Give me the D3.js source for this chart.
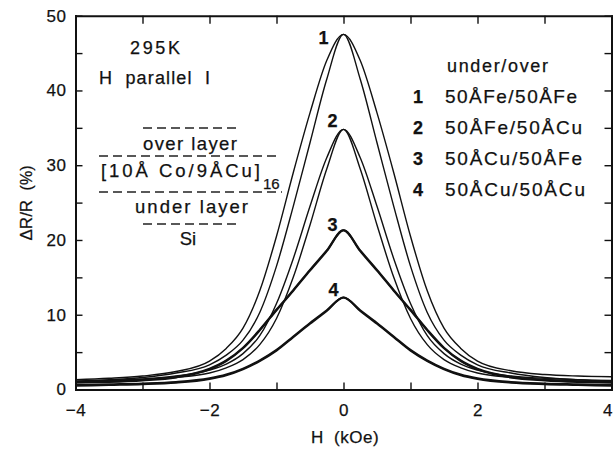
<!DOCTYPE html>
<html>
<head>
<meta charset="utf-8">
<script src="https://cdn.jsdelivr.net/npm/d3@7"></script>
<style>
  body { margin: 0; background: #fff; }
  svg { font-family: "Liberation Sans", Arial, Helvetica, sans-serif; }
  svg text { fill: #111; stroke: #111; stroke-width: 0.25px; }
  .axis .domain { stroke: #111; stroke-width: 2; }
  .axis line { stroke: #111; stroke-width: 1.4; }
  .axis text { font-size: 17px; letter-spacing: 0.5px; }
</style>
</head>
<body>
<div id="chart"></div>
<script>
// field sweep, kOe
const fieldKOe = [-4, -3.5, -3, -2.5, -2, -1.75, -1.5, -1.25, -1, -0.75, -0.5, -0.25, 0,
  0.25, 0.5, 0.75, 1, 1.25, 1.5, 1.75, 2, 2.5, 3, 3.5, 4];

// dR/R (%) for each sample, two sweep branches each
const curve1Down = [1.3, 1.5, 1.8, 2.4, 3.8, 5.5, 8.2, 13.2, 20.5, 29, 37, 44, 47.5,
  41.5, 33, 24.5, 16.5, 10.3, 6.6, 4.6, 3.3, 2.2, 1.6, 1.3, 1.1];
const curve1Up = [1.1, 1.3, 1.6, 2.2, 3.3, 4.6, 6.6, 10.3, 16.5, 24.5, 33, 41.5, 47.5,
  44, 37, 29, 20.5, 13.2, 8.2, 5.5, 3.8, 2.5, 2.0, 1.8, 1.7];
const curve2Down = [1.1, 1.2, 1.4, 1.8, 2.6, 3.4, 4.8, 7.2, 11.5, 17.5, 24.5, 31, 34.8,
  29.5, 22, 15, 9.5, 6.0, 4.0, 2.9, 2.2, 1.6, 1.3, 1.1, 1.0];
const curve2Up = [1.0, 1.1, 1.3, 1.6, 2.2, 2.9, 4.0, 6.0, 9.5, 15, 22, 29.5, 34.8,
  31, 24.5, 17.5, 11.5, 7.2, 4.8, 3.4, 2.6, 1.8, 1.5, 1.3, 1.2];
const curve3Down = [1.0, 1.1, 1.3, 1.7, 2.8, 3.9, 5.6, 8.0, 10.7, 13.3, 16.0, 18.6, 21.3,
  18.5, 15.9, 13.2, 10.6, 7.9, 5.5, 3.8, 2.7, 1.6, 1.2, 1.0, 0.9];
const curve3Up = [0.9, 1.0, 1.2, 1.6, 2.7, 3.8, 5.5, 7.9, 10.6, 13.2, 15.9, 18.5, 21.3,
  18.6, 16.0, 13.3, 10.7, 8.0, 5.6, 3.9, 2.8, 1.7, 1.3, 1.1, 1.0];
const curve4Down = [0.6, 0.7, 0.8, 1.0, 1.5, 2.0, 2.8, 3.9, 5.3, 7.1, 8.9, 10.6, 12.3,
  10.5, 8.8, 7.0, 5.2, 3.8, 2.7, 1.9, 1.4, 0.9, 0.7, 0.6, 0.5];
const curve4Up = [0.5, 0.6, 0.7, 0.9, 1.4, 1.9, 2.7, 3.8, 5.2, 7.0, 8.8, 10.5, 12.3,
  10.6, 8.9, 7.1, 5.3, 3.9, 2.8, 2.0, 1.5, 1.0, 0.8, 0.7, 0.6];

const sampleIds = ['1', '2', '3', '4'];
const sampleNames = ['50ÅFe/50ÅFe', '50ÅFe/50ÅCu', '50ÅCu/50ÅFe', '50ÅCu/50ÅCu'];
const peakValues = [47.5, 34.8, 21.3, 12.3];

const xTicksMajor = [-4, -2, 0, 2, 4];
const xTicksAll = [-3, -2, -1, 0, 1, 2, 3];
const yTicksMajor = [0, 10, 20, 30, 40, 50];
const yTicksMinor = [5, 15, 25, 35, 45];

const width = 615, height = 450;
const margin = { top: 15.7, right: 3.5, bottom: 60.5, left: 75.5 };

const svg = d3.select('#chart').append('svg')
  .attr('width', width)
  .attr('height', height)
  .style('background', '#fff');

const x = d3.scaleLinear().domain([-4, 4]).range([margin.left, width - margin.right]);
const y = d3.scaleLinear().domain([0, 50]).range([height - margin.bottom, margin.top]);

// axes, ticks pointing inward
const xLabels = svg.append('g').attr('class', 'axis')
  .attr('transform', `translate(0,${y(0)})`)
  .call(d3.axisBottom(x).tickValues(xTicksMajor).tickSize(0).tickSizeOuter(0)
    .tickPadding(14).tickFormat(d => d < 0 ? '\u2212' + Math.abs(d) : d));
xLabels.selectAll('.tick text').attr('dx', d => d === 4 ? -4 : 0);
svg.append('g').attr('class', 'axis')
  .attr('transform', `translate(0,${y(0)})`)
  .call(d3.axisBottom(x).tickValues(xTicksAll).tickSize(-7).tickSizeOuter(0).tickFormat(''));
svg.append('g').attr('class', 'axis')
  .attr('transform', `translate(0,${y(50)})`)
  .call(d3.axisTop(x).tickValues(xTicksAll).tickSize(-8).tickSizeOuter(0).tickFormat(''));
svg.append('g').attr('class', 'axis')
  .attr('transform', `translate(${x(-4)},0)`)
  .call(d3.axisLeft(y).tickValues(yTicksMajor).tickSize(-7).tickSizeOuter(0).tickPadding(9));
svg.append('g').attr('class', 'axis')
  .attr('transform', `translate(${x(-4)},0)`)
  .call(d3.axisLeft(y).tickValues(yTicksMinor).tickSize(-7).tickSizeOuter(0).tickFormat(''));
svg.append('g').attr('class', 'axis')
  .attr('transform', `translate(${x(4)},0)`)
  .call(d3.axisRight(y).tickValues(yTicksMajor.concat(yTicksMinor)).tickSize(-7)
    .tickSizeOuter(0).tickFormat(''));

svg.selectAll('.axis .domain').attr('stroke-linecap', 'square');

// axis titles
svg.append('text')
  .attr('x', 345).attr('y', 443)
  .attr('text-anchor', 'middle')
  .style('font-size', '17px').style('white-space', 'pre').style('letter-spacing', '0.5px')
  .text('H  (kOe)');

const yTitle = svg.append('text')
  .attr('transform', 'translate(32,203) rotate(-90)')
  .attr('text-anchor', 'middle')
  .style('font-size', '17px').style('white-space', 'pre');
yTitle.append('tspan').text('\u0394R/R  ');
yTitle.append('tspan').style('font-size', '16px').text('(%)');

// curves
const line = d3.line()
  .x((d, i) => x(fieldKOe[i]))
  .y(d => y(d))
  .curve(d3.curveMonotoneX);

const branches = [
  { values: curve1Down, w: 1.4 },
  { values: curve1Up, w: 1.4 },
  { values: curve2Down, w: 1.4 },
  { values: curve2Up, w: 1.4 },
  { values: curve3Down, w: 2.0 },
  { values: curve3Up, w: 2.0 },
  { values: curve4Down, w: 2.0 },
  { values: curve4Up, w: 2.0 },
];

svg.append('g')
  .selectAll('path')
  .data(branches)
  .join('path')
  .attr('d', d => line(d.values))
  .attr('fill', 'none')
  .attr('stroke', '#111')
  .attr('stroke-width', d => d.w)
  .attr('stroke-linejoin', 'round');

// peak labels
const peakLabelOffset = [[-20, 10], [-11, -2], [-11, 1], [-10, -1.5]];
svg.append('g')
  .selectAll('text')
  .data(peakValues)
  .join('text')
  .attr('x', (d, i) => x(0) + peakLabelOffset[i][0])
  .attr('y', (d, i) => y(d) + peakLabelOffset[i][1])
  .attr('text-anchor', 'middle')
  .style('font-size', '18px')
  .style('font-weight', 'bold')
  .text((d, i) => sampleIds[i]);

// top-left notes
svg.append('text')
  .attr('x', 130).attr('y', 54)
  .attr('textLength', 50).attr('lengthAdjust', 'spacing')
  .style('font-size', '18px')
  .text('295K');
svg.append('text')
  .attr('x', 99).attr('y', 84)
  .attr('textLength', 111).attr('lengthAdjust', 'spacing')
  .style('font-size', '18px').style('white-space', 'pre')
  .text('H  parallel  I');

// layer stack sketch
const dashes = [
  { x1: 143, x2: 238, y: 128 },
  { x1: 99, x2: 281, y: 156 },
  { x1: 99, x2: 282, y: 192 },
  { x1: 143, x2: 240, y: 224 },
];
svg.append('g')
  .selectAll('line')
  .data(dashes)
  .join('line')
  .attr('x1', d => d.x1).attr('x2', d => d.x2)
  .attr('y1', d => d.y).attr('y2', d => d.y)
  .attr('stroke', '#222')
  .attr('stroke-width', 1.5)
  .attr('stroke-dasharray', '9 5');

svg.append('text')
  .attr('x', 143).attr('y', 150)
  .attr('textLength', 94).attr('lengthAdjust', 'spacing')
  .style('font-size', '18.5px')
  .text('over layer');
svg.append('text')
  .attr('x', 101).attr('y', 177)
  .attr('textLength', 159).attr('lengthAdjust', 'spacing')
  .style('font-size', '18.5px').style('white-space', 'pre')
  .text('[10Å Co/9ÅCu]');
svg.append('text')
  .attr('x', 263).attr('y', 189)
  .style('font-size', '15px')
  .text('16');
svg.append('text')
  .attr('x', 135).attr('y', 213)
  .attr('textLength', 113).attr('lengthAdjust', 'spacing')
  .style('font-size', '18.5px')
  .text('under layer');
svg.append('text')
  .attr('x', 188).attr('y', 245)
  .attr('text-anchor', 'middle')
  .style('font-size', '18.5px')
  .text('Si');

// legend
svg.append('text')
  .attr('x', 447).attr('y', 72)
  .attr('textLength', 101).attr('lengthAdjust', 'spacing')
  .style('font-size', '18px')
  .text('under/over');

const legendWidths = [132, 137, 137, 140];
const legend = svg.append('g')
  .selectAll('g')
  .data(sampleNames)
  .join('g')
  .attr('transform', (d, i) => `translate(0,${103 + i * 31})`);
legend.append('text')
  .attr('x', 418)
  .attr('text-anchor', 'middle')
  .style('font-size', '18px').style('font-weight', 'bold')
  .text((d, i) => sampleIds[i]);
legend.append('text')
  .attr('x', 445)
  .attr('textLength', (d, i) => legendWidths[i]).attr('lengthAdjust', 'spacing')
  .style('font-size', '19px')
  .text(d => d);
</script>
</body>
</html>
